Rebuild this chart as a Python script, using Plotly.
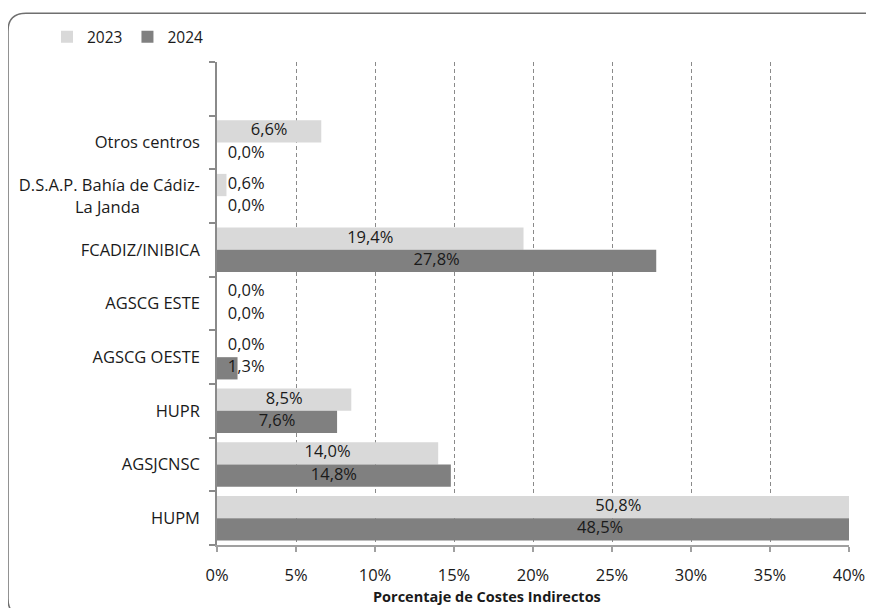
import plotly.graph_objects as go

# ---- data ----
categories = ["HUPM", "AGSJCNSC", "HUPR", "AGSCG OESTE", "AGSCG ESTE",
              "FCADIZ/INIBICA",
              "D.S.A.P. Bahía de Cádiz-<br>La Janda" + "\u00a0" * 14,
              "Otros centros"]
values_2023 = [50.8, 14.0, 8.5, 0.0, 0.0, 19.4, 0.6, 6.6]
values_2024 = [48.5, 14.8, 7.6, 1.3, 0.0, 27.8, 0.0, 0.0]
series_names = ["2023", "2024"]
x_ticks = [0, 5, 10, 15, 20, 25, 30, 35, 40]
x_tick_labels = [f"{v}%" for v in x_ticks]
x_title = "Porcentaje de Costes Indirectos"

# ---- layout helpers (page has an 8px body margin) ----
OFF = 8
W, H = 874, 608
PL, PR, PT, PB = 217, 849, 59, 545          # plot area in page pixels
ML, MT = PL - OFF, PT - OFF
MR, MB = W - (PR - OFF), H - (PB - OFF)
PW, PH = PR - PL, PB - PT
FONT = "Open Sans"
FS = 16.5
TXT = "#1a1a1a"

def px_x(x):
    return (x - PL) / PW

def px_y(y):
    return (PB - y) / PH

ypos = list(range(len(categories)))
bw = 0.415
c23, c24 = "#d9d9d9", "#808080"

def fmt(v):
    return f"{v:.1f}%".replace(".", ",")

min_label = 1.85
lab_x_23 = [max(v / 2, min_label) for v in values_2023]
lab_x_24 = [max(v / 2, min_label) for v in values_2024]

fig = go.Figure()
fig.add_trace(go.Bar(x=values_2023, y=ypos, orientation="h", name=series_names[0],
                     marker=dict(color=c23, line=dict(width=0)), width=bw, offset=0))
fig.add_trace(go.Bar(x=values_2024, y=ypos, orientation="h", name=series_names[1],
                     marker=dict(color=c24, line=dict(width=0)), width=bw, offset=-bw))
fig.add_trace(go.Scatter(x=lab_x_23, y=[p + bw / 2 for p in ypos], mode="text",
                         text=[fmt(v) for v in values_2023], showlegend=False,
                         textfont=dict(family=FONT, size=FS, color=TXT),
                         hoverinfo="skip"))
fig.add_trace(go.Scatter(x=lab_x_24, y=[p - bw / 2 for p in ypos], mode="text",
                         text=[fmt(v) for v in values_2024], showlegend=False,
                         textfont=dict(family=FONT, size=FS, color=TXT),
                         hoverinfo="skip"))

# rounded border
x0, x1, t, b, r = 8, 886, 10, 617, 18
rx, ry = r / PW, r / PH
X0, X1, T, B = px_x(x0), px_x(x1), px_y(t), px_y(b)
path = (f"M {X0+rx},{T} L {X1-rx},{T} Q {X1},{T} {X1},{T-ry} "
        f"L {X1},{B+ry} Q {X1},{B} {X1-rx},{B} L {X0+rx},{B} "
        f"Q {X0},{B} {X0},{B+ry} L {X0},{T-ry} Q {X0},{T} {X0+rx},{T} Z")

fig.update_layout(
    width=W, height=H,
    margin=dict(l=ML, r=MR, t=MT, b=MB),
    paper_bgcolor="white", plot_bgcolor="white",
    font=dict(family=FONT, size=FS, color=TXT),
    barmode="overlay",
    showlegend=True,
    legend=dict(orientation="h", x=px_x(47), y=px_y(34), xanchor="left", yanchor="middle",
                font=dict(family=FONT, size=FS - 1, color=TXT), bgcolor="rgba(0,0,0,0)",
                itemwidth=30, tracegroupgap=0),
    shapes=[dict(type="path", path=path, xref="paper", yref="paper",
                 line=dict(color="#6f6f6f", width=1.5), layer="above")],
    annotations=[dict(text=f"<b>{x_title}</b>", x=px_x(487), y=px_y(597),
                      xref="paper", yref="paper", showarrow=False,
                      xanchor="center", yanchor="middle",
                      font=dict(family=FONT, size=14.5, color=TXT))],
)

fig.update_xaxes(range=[0, 40], tickvals=x_ticks, ticktext=x_tick_labels,
                 showgrid=True, gridcolor="#8a8a8a", griddash="4px,3px", gridwidth=1,
                 showline=True, linecolor="#a0a0a0", linewidth=2,
                 ticks="outside", ticklen=5, tickcolor="#a0a0a0", tickwidth=1.5,
                 ticklabelstandoff=9,
                 zeroline=False, tickfont=dict(family=FONT, size=FS, color=TXT))
fig.update_yaxes(range=[-0.5, len(categories) + 0.5], tickvals=ypos, ticktext=categories,
                 showgrid=False, zeroline=False, showline=True,
                 linecolor="#8a8a8a", linewidth=1.5, ticks="", ticklabelstandoff=12,
                 minor=dict(tickvals=[p - 0.5 for p in range(len(categories) + 2)],
                            ticks="outside", ticklen=6, tickcolor="#8a8a8a", tickwidth=1.5,
                            showgrid=False),
                 tickfont=dict(family=FONT, size=FS, color=TXT))

fig.write_html("out.html")
